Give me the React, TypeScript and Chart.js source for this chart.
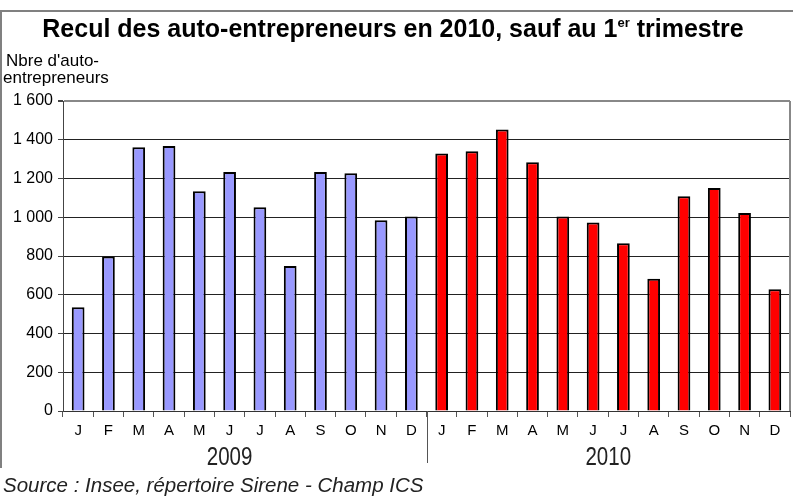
import React, { useEffect, useRef } from "react";
import { Chart, registerables } from "chart.js";

Chart.register(...registerables);

const months = ["J", "F", "M", "A", "M", "J", "J", "A", "S", "O", "N", "D"];
const years = ["2009", "2010"];
const values2009 = [535, 797, 1361, 1368, 1134, 1234, 1051, 749, 1234, 1227, 985, 1004];
const values2010 = [1329, 1341, 1453, 1284, 1004, 973, 866, 683, 1108, 1151, 1022, 628];
const yTicks = [0, 200, 400, 600, 800, 1000, 1200, 1400, 1600];

const title = "Recul des auto-entrepreneurs en 2010, sauf au 1";
const titleSup = "er";
const titleEnd = " trimestre";
const yTitle = ["Nbre d'auto-", "entrepreneurs"];
const source = "Source : Insee, répertoire Sirene - Champ ICS";

const FONT = "'Liberation Sans', Arial, sans-serif";

const W = 793;
const H = 497;

function fmt(v: number): string {
  if (v >= 1000) {
    const r = v % 1000;
    return `${Math.floor(v / 1000)} ${String(r).padStart(3, "0")}`;
  }
  return String(v);
}

export default function App() {
  const ref = useRef<HTMLCanvasElement | null>(null);

  useEffect(() => {
    if (!ref.current) return;
    const labels = [...months, ...months];
    const data = [...values2009, ...values2010];
    const colors = [...values2009.map(() => "#9999FF"), ...values2010.map(() => "#FF0000")];

    const textPlugin = {
      id: "texts",
      afterDraw(chart: any) {
        const ctx = chart.ctx as CanvasRenderingContext2D;
        const x = chart.scales.x;
        const area = chart.chartArea;
        ctx.save();
        // frame
        ctx.strokeStyle = "#808080";
        ctx.lineWidth = 2;
        ctx.beginPath();
        ctx.moveTo(1, 468);
        ctx.lineTo(1, 11);
        ctx.lineTo(W, 11);
        ctx.stroke();

        // plot area right border
        ctx.strokeStyle = "#888";
        ctx.lineWidth = 2;
        ctx.beginPath();
        ctx.moveTo(area.right, area.top);
        ctx.lineTo(area.right, area.bottom);
        ctx.stroke();

        // title
        ctx.fillStyle = "#000";
        ctx.textBaseline = "alphabetic";
        const tf = `bold 25px ${FONT}`;
        const sf = `bold 13px ${FONT}`;
        ctx.font = tf;
        const w1 = ctx.measureText(title).width;
        const wEnd = ctx.measureText(titleEnd).width;
        ctx.font = sf;
        const wSup = ctx.measureText(titleSup).width;
        const total = w1 + wSup + wEnd;
        let tx = 393 - total / 2;
        ctx.textAlign = "left";
        ctx.font = tf;
        ctx.fillText(title, tx, 37);
        tx += w1;
        ctx.font = sf;
        ctx.fillText(titleSup, tx, 27);
        tx += wSup;
        ctx.font = tf;
        ctx.fillText(titleEnd, tx, 37);

        // y title
        ctx.font = `17px ${FONT}`;
        ctx.fillText(yTitle[0], 6, 66);
        ctx.fillText(yTitle[1], 3, 83);

        // separator between years
        const sep = (x.getPixelForValue(11) + x.getPixelForValue(12)) / 2;
        ctx.strokeStyle = "#555";
        ctx.lineWidth = 1;
        ctx.beginPath();
        ctx.moveTo(Math.round(sep) + 0.5, area.bottom);
        ctx.lineTo(Math.round(sep) + 0.5, 463);
        ctx.stroke();

        // year labels (condensed)
        ctx.textAlign = "center";
        ctx.font = `25px ${FONT}`;
        ctx.fillStyle = "#222";
        const drawNarrow = (txt: string, cx: number, by: number) => {
          ctx.save();
          ctx.translate(cx, by);
          ctx.scale(0.82, 1);
          ctx.fillText(txt, 0, 0);
          ctx.restore();
        };
        drawNarrow(years[0], x.getPixelForValue(5), 465);
        drawNarrow(years[1], (x.getPixelForValue(17) + x.getPixelForValue(18)) / 2, 465);

        // source
        ctx.textAlign = "left";
        ctx.fillStyle = "#222";
        ctx.font = `italic 20.5px ${FONT}`;
        ctx.fillText(source, 3, 492);
        ctx.restore();
      },
    };

    const chart = new Chart(ref.current, {
      type: "bar",
      data: {
        labels,
        datasets: [
          {
            data,
            backgroundColor: colors,
            borderColor: "#000",
            borderWidth: 2,
            categoryPercentage: 1,
            barPercentage: 0.42,
          },
        ],
      },
      options: {
        animation: false,
        responsive: false,
        maintainAspectRatio: false,
        layout: { padding: { top: 101, right: 3, left: 0, bottom: 0 } },
        plugins: { legend: { display: false }, tooltip: { enabled: false }, title: { display: false } },
        scales: {
          x: {
            afterFit: (s: any) => {
              s.height = 86;
            },
            grid: {
              offset: true,
              drawOnChartArea: false,
              drawTicks: true,
              tickLength: 6,
              tickColor: "#555",
            },
            border: { display: true, color: "#333", width: 1 },
            ticks: {
              color: "#000",
              font: { family: FONT, size: 15 },
              padding: 5,
              maxRotation: 0,
              autoSkip: false,
            },
          },
          y: {
            min: 0,
            max: 1600,
            afterFit: (s: any) => {
              s.width = 63;
            },
            afterBuildTicks: (s: any) => {
              s.ticks = yTicks.map((v) => ({ value: v }));
            },
            grid: {
              color: (c: any) => (c.tick && c.tick.value === 1600 ? "#888" : "#222"),
              lineWidth: (c: any) => (c.tick && c.tick.value === 1600 ? 2 : 1),
              drawTicks: true,
              tickLength: 5,
              tickColor: "#444",
            },
            border: { display: true, color: "#444", width: 1 },
            ticks: {
              color: "#000",
              font: { family: FONT, size: 16 },
              padding: 5,
              callback: (v: any) => fmt(Number(v)),
            },
          },
        },
      },
      plugins: [textPlugin],
    });

    return () => chart.destroy();
  }, []);

  return (
    <div style={{ position: "absolute", left: 0, top: 0, width: W, height: H, background: "#fff" }}>
      <canvas ref={ref} width={W} height={H} style={{ display: "block", width: W, height: H }} />
    </div>
  );
}
